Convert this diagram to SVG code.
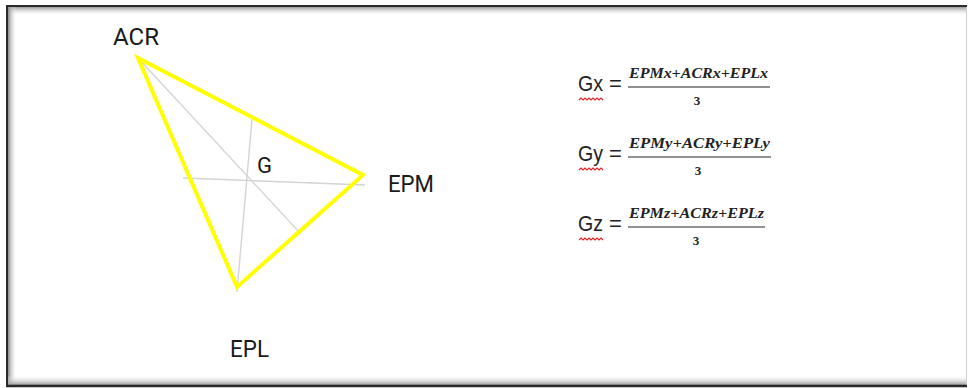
<svg xmlns="http://www.w3.org/2000/svg" width="969" height="388" viewBox="0 0 969 388">
  <defs>
    <linearGradient id="shTop" x1="0" y1="0" x2="0" y2="1">
      <stop offset="0" stop-color="#9a9a9a"/>
      <stop offset="1" stop-color="#ffffff" stop-opacity="0"/>
    </linearGradient>
    <linearGradient id="shLeft" x1="0" y1="0" x2="1" y2="0">
      <stop offset="0" stop-color="#8a8a8a"/>
      <stop offset="1" stop-color="#ffffff" stop-opacity="0"/>
    </linearGradient>
    <linearGradient id="shBottom" x1="0" y1="1" x2="0" y2="0">
      <stop offset="0" stop-color="#9a9a9a"/>
      <stop offset="1" stop-color="#ffffff" stop-opacity="0"/>
    </linearGradient>
    <style>
      .lbl { font-family: Roboto, "Liberation Sans", sans-serif; font-size: 24px; fill: #1a1a1a; }
      .median { stroke: #d4d4d4; stroke-width: 1.4; fill: none; }
      .tri { stroke: #ffff00; stroke-width: 4; fill: none; stroke-linejoin: miter; }
      .g { font-family: "Liberation Sans", Arial, sans-serif; font-size: 22px; fill: #222; }
      .num { font-family: "Liberation Serif", "DejaVu Serif", serif; font-style: italic; font-weight: bold; font-size: 14.5px; fill: #222; }
      .three { font-family: "Liberation Serif", serif; font-weight: bold; font-size: 13px; fill: #222; }
      .bar { stroke: #222; stroke-width: 1.2; }
      .wavy { stroke: #e02020; stroke-width: 1.1; fill: none; }
    </style>
  </defs>

  <!-- page frame with inner shadow -->
  <rect x="0" y="0" width="969" height="388" fill="#ffffff"/>
  <rect x="8" y="7" width="958" height="9" fill="url(#shTop)"/>
  <rect x="8" y="7" width="9" height="378" fill="url(#shLeft)"/>
  <rect x="8" y="375" width="958" height="10" fill="url(#shBottom)"/>
  <line x1="966.5" y1="7" x2="966.5" y2="385" stroke="#cfcfcf" stroke-width="1"/>
  <path d="M7 386 V6 H967" fill="none" stroke="#2a2a2a" stroke-width="2"/>
  <line x1="6" y1="386" x2="967" y2="386" stroke="#2a2a2a" stroke-width="2.5"/>

  <!-- medians -->
  <g id="connectors">
    <line class="median" x1="138" y1="58" x2="301" y2="234"/>
    <line class="median" x1="183" y1="178" x2="365" y2="185"/>
    <line class="median" x1="252" y1="119" x2="237" y2="292"/>
  </g>

  <!-- triangle -->
  <g id="triangle">
    <polygon class="tri" points="138,58 363,175 237,287"/>
  </g>

  <g id="node-acr"><text class="lbl" x="113" y="45" textLength="46" lengthAdjust="spacingAndGlyphs">ACR</text></g>
  <g id="node-epm"><text class="lbl" x="388" y="192" textLength="46" lengthAdjust="spacingAndGlyphs">EPM</text></g>
  <g id="node-epl"><text class="lbl" x="230" y="357" textLength="39" lengthAdjust="spacingAndGlyphs">EPL</text></g>
  <g id="node-g"><text class="lbl" x="257" y="173" style="font-size:22px">G</text></g>

  <!-- centroid formulas -->
  <g id="formula-x">
    <text class="g" x="578" y="91" textLength="25" lengthAdjust="spacingAndGlyphs">Gx</text>
    <path class="wavy" d="M579 100 l2 -2 l2 2 l2 -2 l2 2 l2 -2 l2 2 l2 -2 l2 2 l2 -2 l2 2 l2 -2 l2 2"/>
    <text class="g" x="609" y="91">=</text>
    <text class="num" x="629" y="78" textLength="139" lengthAdjust="spacingAndGlyphs">EPMx+ACRx+EPLx</text>
    <line class="bar" x1="628" y1="87" x2="770" y2="87"/>
    <text class="three" x="697" y="105" text-anchor="middle">3</text>
  </g>
  <g id="formula-y">
    <text class="g" x="578" y="161" textLength="25" lengthAdjust="spacingAndGlyphs">Gy</text>
    <path class="wavy" d="M579 170 l2 -2 l2 2 l2 -2 l2 2 l2 -2 l2 2 l2 -2 l2 2 l2 -2 l2 2 l2 -2 l2 2"/>
    <text class="g" x="609" y="161">=</text>
    <text class="num" x="629" y="148" textLength="141" lengthAdjust="spacingAndGlyphs">EPMy+ACRy+EPLy</text>
    <line class="bar" x1="628" y1="157" x2="771" y2="157"/>
    <text class="three" x="698" y="175" text-anchor="middle">3</text>
  </g>
  <g id="formula-z">
    <text class="g" x="578" y="231" textLength="25" lengthAdjust="spacingAndGlyphs">Gz</text>
    <path class="wavy" d="M579 240 l2 -2 l2 2 l2 -2 l2 2 l2 -2 l2 2 l2 -2 l2 2 l2 -2 l2 2 l2 -2 l2 2"/>
    <text class="g" x="609" y="231">=</text>
    <text class="num" x="629" y="218" textLength="135" lengthAdjust="spacingAndGlyphs">EPMz+ACRz+EPLz</text>
    <line class="bar" x1="628" y1="227" x2="765" y2="227"/>
    <text class="three" x="696" y="245" text-anchor="middle">3</text>
  </g>
</svg>
